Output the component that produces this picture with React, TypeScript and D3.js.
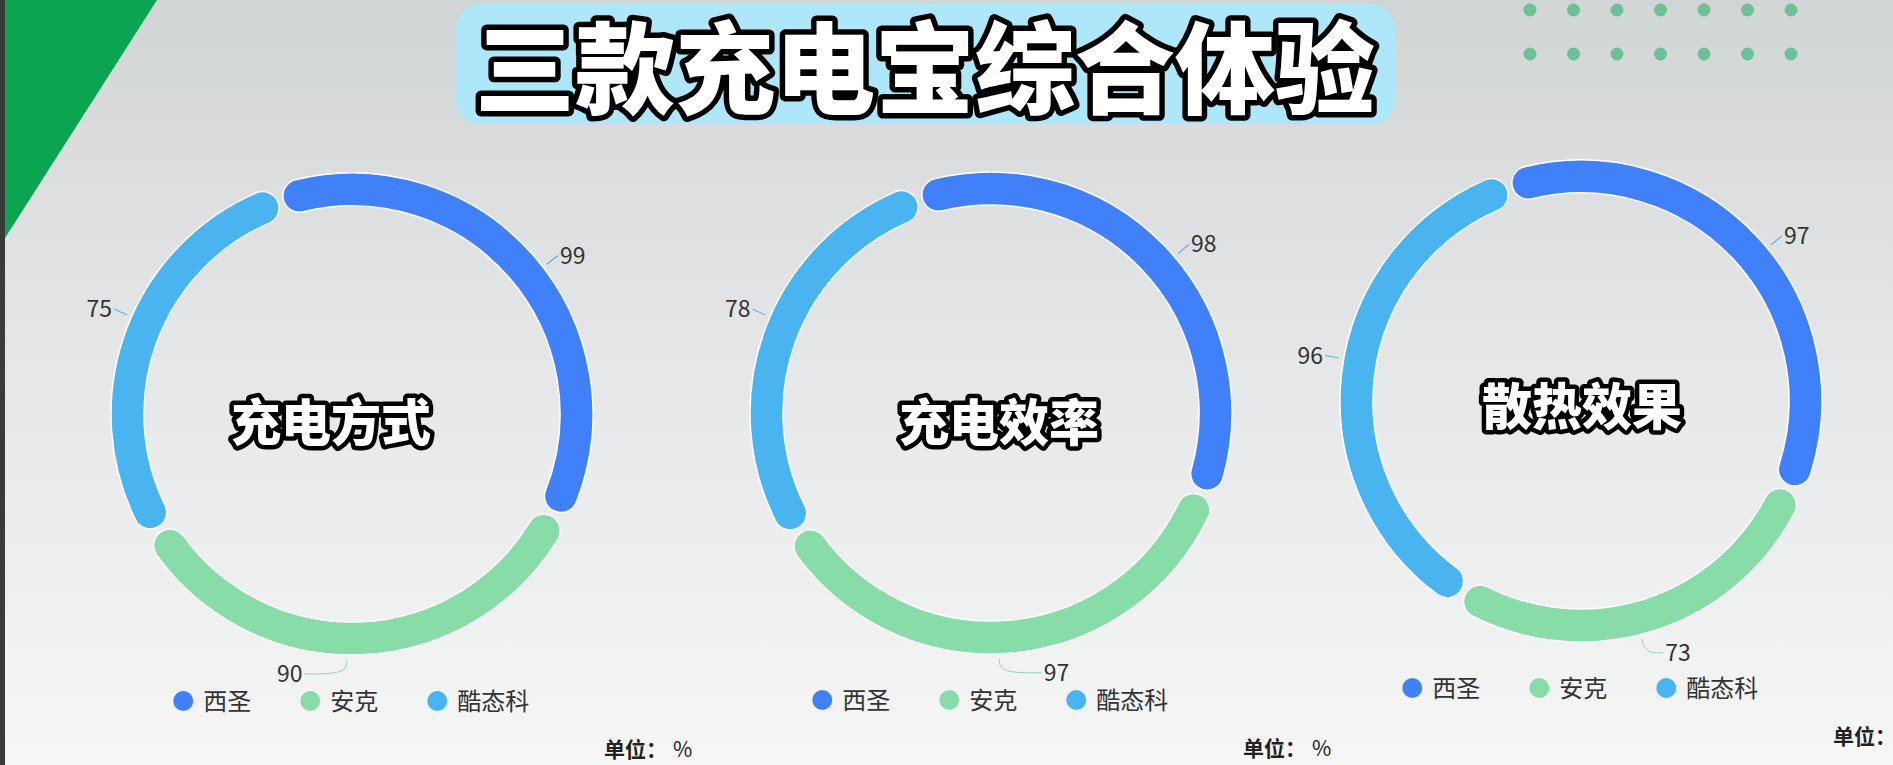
import { useEffect, useRef } from 'react';
import * as d3 from 'd3';

// Canvas
const WIDTH = 1893;
const HEIGHT = 765;

// Data
const TITLE = '三款充电宝综合体验';
const BRANDS = ['西圣', '安克', '酷态科'];
const BRAND_COLORS = ['#4080F8', '#88DCA8', '#4AB4F0'];
const METRICS = ['充电方式', '充电效率', '散热效果'];
const XISHENG = [99, 98, 97];
const ANKER = [90, 97, 73];
const CUKTECH = [75, 78, 96];
const UNIT = '%';

// Layout
const FONT = "'Noto Sans CJK SC', 'Noto Sans', sans-serif";
const CENTERS: [number, number][] = [[352, 414], [991, 413], [1581, 401]];
const NAME_OFFSETS: [number, number][] = [[-21, 9], [8, 10], [1, 6]];
const OUTER = 241;
const INNER = 208;
const START = -18.5 * Math.PI / 180;
const LABEL_SHIFT = 3.5 * Math.PI / 180; // labels sit a little clockwise of the slice middle

export default function App() {
  const ref = useRef<SVGSVGElement>(null);

  useEffect(() => {
    if (!ref.current) return;
    const svg = d3.select(ref.current);
    svg.selectAll('*').remove();

    // Background
    const defs = svg.append('defs');
    const grad = defs.append('linearGradient')
      .attr('id', 'bg')
      .attr('x1', 0).attr('y1', 0).attr('x2', 0).attr('y2', 1);
    grad.append('stop').attr('offset', '0%').attr('stop-color', '#D2D5D6');
    grad.append('stop').attr('offset', '55%').attr('stop-color', '#E8E9EA');
    grad.append('stop').attr('offset', '100%').attr('stop-color', '#F6F6F6');

    svg.append('rect')
      .attr('width', WIDTH).attr('height', HEIGHT)
      .attr('fill', 'url(#bg)');

    // Left edge decoration
    svg.append('rect')
      .attr('x', 0).attr('y', 0).attr('width', 5).attr('height', HEIGHT)
      .attr('fill', '#3A3A3A');
    svg.append('path')
      .attr('d', 'M5,0 L157,0 L5,238 Z')
      .attr('fill', '#0BA552');

    // Dot grid decoration (top right)
    const dotX = d3.scalePoint<number>().domain(d3.range(7)).range([1530, 1791]);
    const dotY = d3.scalePoint<number>().domain(d3.range(2)).range([10, 54]);
    svg.append('g')
      .selectAll('circle')
      .data(d3.cross(d3.range(7), d3.range(2)))
      .join('circle')
      .attr('cx', d => dotX(d[0])!)
      .attr('cy', d => dotY(d[1])!)
      .attr('r', 6.5)
      .attr('fill', '#6DC196');

    // Title
    svg.append('rect')
      .attr('x', 456).attr('y', 4)
      .attr('width', 939).attr('height', 120)
      .attr('rx', 24)
      .attr('fill', '#AEE6FA');
    svg.append('text')
      .attr('x', 925)
      .attr('y', 106)
      .attr('text-anchor', 'middle')
      .attr('font-family', FONT)
      .attr('font-size', 100)
      .attr('font-weight', 900)
      .attr('fill', '#fff')
      .attr('stroke', '#000')
      .attr('stroke-width', 11)
      .attr('stroke-linejoin', 'round')
      .attr('paint-order', 'stroke')
      .text(TITLE);

    const pie = d3.pie<number>()
      .sort(null)
      .value(d => d)
      .startAngle(START)
      .endAngle(START + 2 * Math.PI)
      .padAngle(0.018);

    const arc = d3.arc<d3.PieArcDatum<number>>()
      .innerRadius(INNER)
      .outerRadius(OUTER)
      .cornerRadius((OUTER - INNER) / 2);

    const leader = d3.line<[number, number]>().curve(d3.curveBasis);
    const polar = (a: number, r: number): [number, number] => [Math.sin(a) * r, -Math.cos(a) * r];

    METRICS.forEach((metric, m) => {
      const values = [XISHENG[m], ANKER[m], CUKTECH[m]];
      const [cx, cy] = CENTERS[m];
      const g = svg.append('g').attr('transform', `translate(${cx},${cy})`);
      const slices = pie(values);

      g.append('g')
        .selectAll('path')
        .data(slices)
        .join('path')
        .attr('d', arc)
        .attr('fill', (_, i) => BRAND_COLORS[i])
        .attr('stroke', '#fff')
        .attr('stroke-width', 1.5);

      // value labels with leader lines
      slices.forEach((s, i) => {
        const a = (s.startAngle + s.endAngle) / 2 + LABEL_SHIFT;
        const side = Math.sin(a) >= 0 ? 1 : -1;
        const bottom = Math.cos(a) < 0;
        const absSin = Math.abs(Math.sin(a));
        const h = bottom && absSin < 0.15 ? 42 : bottom && absSin < 0.4 ? 18 : 0;
        const p1 = polar(a, OUTER + 5);
        const p2 = polar(a, OUTER + 19);
        const p3: [number, number] = [p2[0] + side * h, p2[1]];
        g.append('path')
          .attr('d', leader(h > 0 ? [p1, p2, p3] : [p1, p2]))
          .attr('fill', 'none')
          .attr('stroke', BRAND_COLORS[i])
          .attr('stroke-width', 1);
        g.append('text')
          .attr('x', p3[0] + side * 2)
          .attr('y', p3[1])
          .attr('dy', '0.35em')
          .attr('text-anchor', side > 0 ? 'start' : 'end')
          .attr('font-family', FONT)
          .attr('font-size', 23)
          .attr('fill', '#333')
          .text(s.data);
      });

      // center name
      g.append('text')
        .attr('x', NAME_OFFSETS[m][0])
        .attr('y', NAME_OFFSETS[m][1])
        .attr('dy', '0.36em')
        .attr('text-anchor', 'middle')
        .attr('font-family', FONT)
        .attr('font-size', 50)
        .attr('font-weight', 900)
        .attr('fill', '#fff')
        .attr('stroke', '#000')
        .attr('stroke-width', 9)
        .attr('stroke-linejoin', 'round')
        .attr('paint-order', 'stroke')
        .text(metric);

      // legend
      const charW = 24.5;
      const itemW = BRANDS.map(b => 30 + b.length * charW);
      const gap = 48;
      const total = d3.sum(itemW) + gap * (BRANDS.length - 1);
      let x0 = -total / 2;
      const legend = g.append('g').attr('transform', 'translate(0,287)');
      BRANDS.forEach((b, i) => {
        legend.append('circle')
          .attr('cx', x0 + 10)
          .attr('cy', 0)
          .attr('r', 10)
          .attr('fill', BRAND_COLORS[i]);
        legend.append('text')
          .attr('x', x0 + 30)
          .attr('y', 0)
          .attr('dy', '0.36em')
          .attr('font-family', FONT)
          .attr('font-size', 24)
          .attr('fill', '#333')
          .text(b);
        x0 += itemW[i] + gap;
      });

      // unit
      const unit = g.append('text')
        .attr('x', 252)
        .attr('y', 343)
        .attr('font-family', FONT)
        .attr('font-size', 21)
        .attr('fill', '#222');
      unit.append('tspan').attr('font-weight', 700).text('单位：');
      unit.append('tspan').attr('dx', 6).text(UNIT);
    });
  }, []);

  return (
    <svg
      ref={ref}
      width={WIDTH}
      height={HEIGHT}
      style={{ position: 'absolute', left: 0, top: 0, display: 'block' }}
    />
  );
}
